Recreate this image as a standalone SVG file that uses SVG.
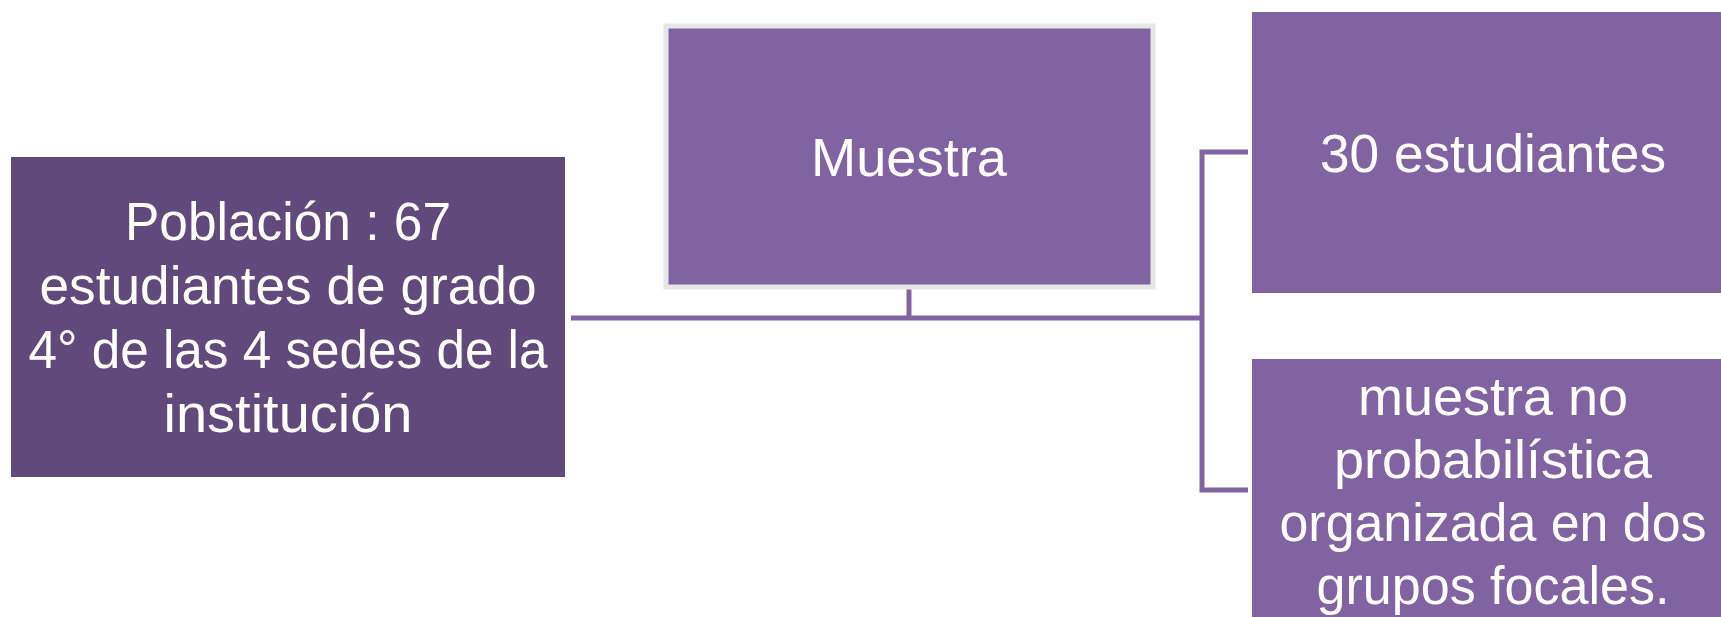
<svg xmlns="http://www.w3.org/2000/svg" width="1721" height="617" viewBox="0 0 1721 617">
<style>
.lbl{font-family:"Liberation Sans",Arial,sans-serif;font-size:54px;fill:#ffffff;text-anchor:middle}
.conn{stroke:#8064a2;stroke-width:5;fill:none}
</style>
<rect width="1721" height="617" fill="#ffffff"/>
<g id="connectors">
<line class="conn" x1="571" y1="318" x2="1202" y2="318"/>
<line class="conn" x1="909" y1="289" x2="909" y2="318"/>
<polyline class="conn" points="1248,152 1202,152 1202,490 1248,490"/>
</g>
<g id="poblacion">
<rect x="11" y="157" width="554" height="320" fill="#604a7b"/>
<text class="lbl" x="288" y="240" textLength="326" lengthAdjust="spacingAndGlyphs">Población : 67</text>
<text class="lbl" x="288" y="304" textLength="497" lengthAdjust="spacingAndGlyphs">estudiantes de grado</text>
<text class="lbl" x="288" y="368" textLength="519" lengthAdjust="spacingAndGlyphs">4° de las 4 sedes de la</text>
<text class="lbl" x="288" y="432" textLength="249" lengthAdjust="spacingAndGlyphs">institución</text>
</g>
<g id="muestra">
<rect x="666" y="26" width="487" height="261" fill="#8064a2" stroke="#e6e6e6" stroke-width="5"/>
<text class="lbl" x="909" y="176" textLength="196" lengthAdjust="spacingAndGlyphs">Muestra</text>
</g>
<g id="estudiantes30">
<rect x="1252" y="12" width="480" height="281" fill="#8064a2"/>
<text class="lbl" x="1493" y="172" textLength="346" lengthAdjust="spacingAndGlyphs">30 estudiantes</text>
</g>
<g id="noprob">
<rect x="1252" y="359" width="480" height="270" fill="#8064a2"/>
<text class="lbl" x="1493" y="415">muestra no</text>
<text class="lbl" x="1493" y="478">probabilística</text>
<text class="lbl" x="1493" y="541" textLength="427" lengthAdjust="spacingAndGlyphs">organizada en dos</text>
<text class="lbl" x="1493" y="604" textLength="353" lengthAdjust="spacingAndGlyphs">grupos focales.</text>
</g>
</svg>
